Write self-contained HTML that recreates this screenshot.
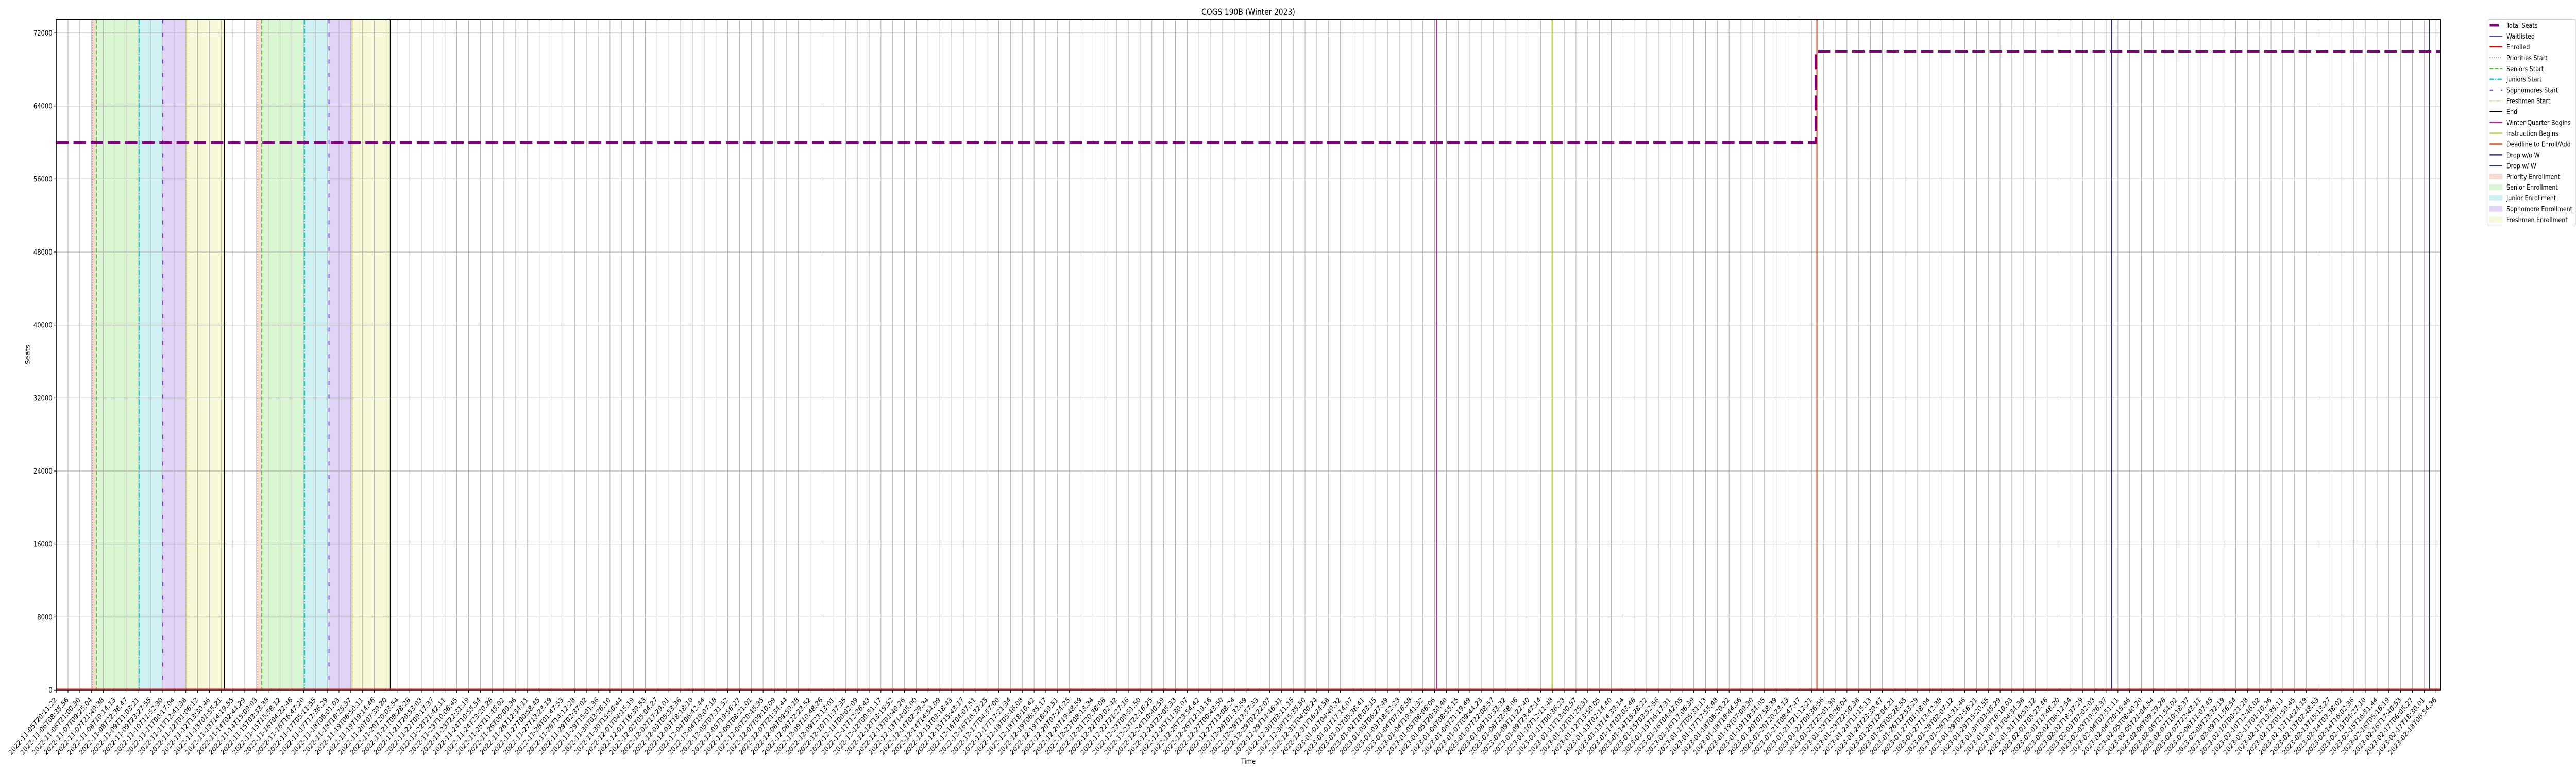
<!DOCTYPE html>
<html><head><meta charset="utf-8"><style>
html,body{margin:0;padding:0;background:#fff;width:100%;height:100%;overflow:hidden;}
svg{display:block;overflow:hidden;width:100vw;height:100vh;font-family:"DejaVu Sans","Liberation Sans",sans-serif;}
</style></head><body>
<svg id="chart" viewBox="0 0 6000 1500" preserveAspectRatio="none" xmlns="http://www.w3.org/2000/svg">
<defs><clipPath id="pageclip"><rect x="0" y="0" width="6000" height="1500"/></clipPath></defs>
<g clip-path="url(#pageclip)">
<rect x="0" y="0" width="6000" height="1500" fill="#fff"/>
<g id="spans"></g><g id="grid"></g><g id="events"></g><g id="series"></g><g id="axes"></g><g id="legend"></g>
</g>
</svg>
<script>
// ---- data ----
const tickStart = "2022-11-05T20:11:22";
const tickEnd = "2023-02-18T06:54:36";
const tickCount = 203;
const xMaxIndex = 202.37;
const yTicks = [0, 8000, 16000, 24000, 32000, 40000, 48000, 56000, 64000, 72000];
const yMax = 73500;
const seatIdx = [0, 149.34, 149.34, 202.37];
const seatValues = [60000, 60000, 70000, 70000];
const enrolledIdx = [0, 202.37];
const enrolledValues = [0, 0];
const spanNames = ["priority", "senior", "junior", "sophomore", "freshmen", "priority", "senior", "junior", "sophomore", "freshmen"];
const spanStart = [3.08, 3.41, 7.03, 9.05, 11.07, 17.09, 17.44, 21.08, 23.15, 25.15];
const spanEnd = [3.41, 7.03, 9.05, 11.07, 14.28, 17.44, 21.08, 23.15, 25.15, 28.36];
const eventNames = ["priorities-start","seniors-start","juniors-start","sophomores-start","freshmen-start","end",
  "priorities-start","seniors-start","juniors-start","sophomores-start","freshmen-start","end",
  "winter-quarter-begins","instruction-begins","deadline-enroll-add","drop-without-w","drop-with-w"];
const eventIdx = [3.08,3.41,7.03,9.05,11.07,14.28,17.09,17.44,21.08,23.15,25.15,28.36,117.16,126.97,149.45,174.45,201.46];

// ---- styles ----
const spanColor = {priority:"#f6ddd4", senior:"#d9f5d1", junior:"#cff1f3", sophomore:"#e0d3f5", freshmen:"#f7f8d8"};
const evStyle = {
 "priorities-start":["#f0643a",1.5,"2 3"],
 "seniors-start":["#33cc11",2,"8 4"],
 "juniors-start":["#12c6d6",2.5,"10 3 2 3"],
 "sophomores-start":["#6a22dd",2,"8 18"],
 "freshmen-start":["#e0e033",1.5,"6 2 2 2 2 2"],
 "end":["#000",2,""],
 "winter-quarter-begins":["#e011a6",2,""],
 "instruction-begins":["#8db800",2,""],
 "deadline-enroll-add":["#d2451a",2.5,""],
 "drop-without-w":["#30239a",2.5,""],
 "drop-with-w":["#2b3956",2.5,""]
};
const L=131, R=5684, T=37.5, B=1339;
const NS="http://www.w3.org/2000/svg";
const xs = i => L + i*(R-L)/xMaxIndex;
const ys = v => B - v*(B-T)/yMax;
function mk(tag, attrs, parent){const e=document.createElementNS(NS,tag);for(const k in attrs)e.setAttribute(k,attrs[k]);if(parent)parent.appendChild(e);return e;}
const gS=document.getElementById('spans'),gG=document.getElementById('grid'),gE=document.getElementById('events'),gSe=document.getElementById('series'),gA=document.getElementById('axes'),gL=document.getElementById('legend');

spanNames.forEach((n,k)=>{
 const r=mk('rect',{x:xs(spanStart[k]),y:T,width:xs(spanEnd[k])-xs(spanStart[k]),height:B-T,fill:spanColor[n]},gS);
 
 
});
const t0=new Date(tickStart+"Z").getTime(), t1=new Date(tickEnd+"Z").getTime();
function fmt(ms){return new Date(ms).toISOString().slice(0,19);}
for(let i=0;i<tickCount;i++){
 const x=xs(i);
 const gl=mk('line',{x1:x,x2:x,y1:T,y2:B,stroke:"#b0b0b0","stroke-width":1.2},gG);
 
 
 const tk=mk('line',{x1:x,x2:x,y1:B,y2:B+5,stroke:"#000","stroke-width":1.2},gA);
 
 
 const lbl = (i===tickCount-1)? tickEnd : fmt(t0 + i*(t1-t0)/(tickCount-1));
 const tx=mk('text',{x:0,y:0,"text-anchor":"end","font-size":13.9,fill:"#000",transform:`translate(${x+2},${B+20}) rotate(-45)`},gA);
 tx.textContent=lbl;
 
 
}
yTicks.forEach(v=>{
 const y=ys(v);
 const gl=mk('line',{x1:L,x2:R,y1:y,y2:y,stroke:"#b0b0b0","stroke-width":1.2},gG);
 
 
 const tk=mk('line',{x1:L-5,x2:L,y1:y,y2:y,stroke:"#000","stroke-width":1.2},gA);
 
 
 const tx=mk('text',{x:L-9,y:y+5,"text-anchor":"end","font-size":13.9,fill:"#000"},gA);
 tx.textContent=String(v);
 
 
});
eventNames.forEach((n,k)=>{
 const s=evStyle[n], x=xs(eventIdx[k]);
 const a={x1:x,x2:x,y1:T,y2:B,stroke:s[0],"stroke-width":s[1]};
 if(s[2])a["stroke-dasharray"]=s[2];
 const l=mk('line',a,gE);
 
 
});
const ep=mk('polyline',{points:enrolledIdx.map((v,i)=>xs(v)+","+(ys(enrolledValues[i])-1)).join(" "),fill:"none",stroke:"#ff0000","stroke-width":3},gSe);


const sp=mk('polyline',{points:seatIdx.map((v,i)=>xs(v)+","+ys(seatValues[i])).join(" "),fill:"none",stroke:"#800080","stroke-width":5,"stroke-dasharray":"29 11"},gSe);


const fr=mk('rect',{x:L,y:T,width:R-L,height:B-T,fill:"none",stroke:"#000","stroke-width":1.5},gA);


const title=mk('text',{x:(L+R)/2,y:29,"text-anchor":"middle","font-size":16.7,fill:"#000"},gA);
title.textContent="COGS 190B (Winter 2023)";


const xl=mk('text',{x:(L+R)/2,y:1482,"text-anchor":"middle","font-size":13.9,fill:"#000"},gA);
xl.textContent="Time";


const yl=mk('text',{x:0,y:0,"text-anchor":"middle","font-size":13.9,fill:"#000",transform:"translate(69,688) rotate(-90)"},gA);
yl.textContent="Seats";


const legendLabels=["Total Seats","Waitlisted","Enrolled","Priorities Start","Seniors Start","Juniors Start","Sophomores Start","Freshmen Start","End","Winter Quarter Begins","Instruction Begins","Deadline to Enroll/Add","Drop w/o W","Drop w/ W","Priority Enrollment","Senior Enrollment","Junior Enrollment","Sophomore Enrollment","Freshmen Enrollment"];
const legendKeys=[["#800080",5,"21 0"],["#0000ff",1.5,""],["#ff0000",2.5,""],["priorities-start"],["seniors-start"],["juniors-start"],["sophomores-start"],["freshmen-start"],["end"],["winter-quarter-begins"],["instruction-begins"],["deadline-enroll-add"],["drop-without-w"],["drop-with-w"],["P","priority"],["P","senior"],["P","junior"],["P","sophomore"],["P","freshmen"]];
const lb=mk('rect',{x:5795,y:37.5,width:204,height:401,rx:3,fill:"#fff",stroke:"#d0d0d0","stroke-width":1},gL);


legendLabels.forEach((txt,k)=>{
 const y=49+k*20.95, key=legendKeys[k];
 const g=mk('g',{},gL);
 
 
 if(key[0]==="P"){
  mk('rect',{x:5799,y:y-5,width:29,height:10,fill:spanColor[key[1]],stroke:spanColor[key[1]]},g);
 } else {
  const s=key.length===1?evStyle[key[0]]:key;
  const a={x1:5799,x2:(k===0?5820:5828),y1:y,y2:y,stroke:s[0],"stroke-width":s[1]};
  if(s[2])a["stroke-dasharray"]=s[2];
  mk('line',a,g);
 }
 const t=mk('text',{x:5838,y:y+5,"font-size":13.4,fill:"#000"},g);
 t.textContent=txt;
});
</script>
</body></html>
